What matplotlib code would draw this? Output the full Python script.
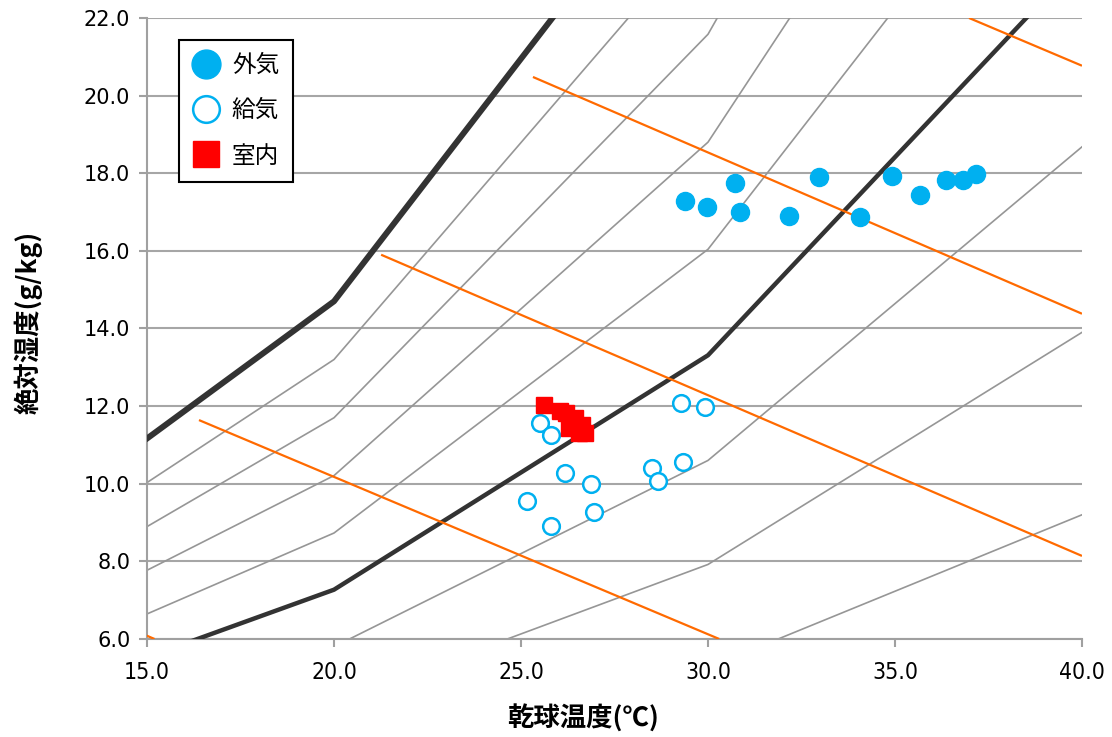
import matplotlib
matplotlib.use('Agg')
import matplotlib.pyplot as plt

plt.rcParams['font.family'] = ['Noto Sans CJK JP', 'DejaVu Sans']

# 相対湿度線 (10, 20, 30, 40 ℃ での絶対湿度 g/kg)
rh_temps = [10, 20, 30, 40]
rh100 = [7.63, 14.70, 27.20, 48.89]
rh90 = [6.86, 13.20, 24.38, 43.66]
rh80 = [6.09, 11.70, 21.58, 38.51]
rh70 = [5.33, 10.21, 18.80, 33.44]
rh60 = [4.56, 8.73, 16.04, 28.44]
rh50 = [3.79, 7.27, 13.31, 23.52]
rh40 = [3.03, 5.80, 10.60, 18.68]
rh30 = [2.27, 4.34, 7.92, 13.90]
rh20 = [1.51, 2.88, 5.26, 9.20]

# エンタルピー線 (始点・終点)
enth_x = [[14.5, 15.2], [16.39, 30.3], [21.26, 40.0], [25.32, 40.0], [36.98, 40.0]]
enth_y = [[6.29, 6.0], [11.64, 6.0], [15.90, 8.14], [20.48, 14.38], [22.0, 20.77]]

# 外気
out_t = [29.39, 29.97, 30.72, 30.86, 32.97, 32.17, 34.06, 34.92, 35.67, 36.36, 36.82, 37.17]
out_x = [17.29, 17.13, 17.75, 17.00, 17.91, 16.91, 16.88, 17.93, 17.44, 17.83, 17.83, 17.98]

# 給気
sup_t = [25.51, 25.80, 26.18, 25.16, 25.80, 26.87, 26.95, 28.50, 28.66, 29.28, 29.33, 29.92]
sup_x = [11.57, 11.26, 10.28, 9.56, 8.91, 9.99, 9.27, 10.41, 10.07, 12.08, 10.56, 11.98]

# 室内
in_t = [25.61, 26.04, 26.20, 26.44, 26.28, 26.55, 26.71, 26.63]
in_x = [12.03, 11.88, 11.82, 11.70, 11.44, 11.31, 11.31, 11.52]

xticks = [15.0, 20.0, 25.0, 30.0, 35.0, 40.0]
yticks = [6.0, 8.0, 10.0, 12.0, 14.0, 16.0, 18.0, 20.0, 22.0]

fig = plt.figure(figsize=(11.12, 7.37), dpi=100)
ax = fig.add_axes([0.1322, 0.133, 0.8408, 0.8426])

for yv in yticks:
    ax.axhline(yv, color='#a6a6a6', lw=1.5, zorder=1)

for line in [rh90, rh80, rh70, rh60, rh40, rh30, rh20]:
    ax.plot(rh_temps, line, color='#969696', lw=1.2, zorder=2)

ax.plot(rh_temps, rh100, color='#333333', lw=4.3, zorder=3)
ax.plot(rh_temps, rh50, color='#333333', lw=3.2, zorder=3)

for ex, ey in zip(enth_x, enth_y):
    ax.plot(ex, ey, color='#ff6a00', lw=1.6, zorder=3, solid_capstyle='butt')

ax.plot(out_t, out_x, 'o', color='#00b0f0', ms=13, mec='#00b0f0', label='外気', zorder=5)
ax.plot(sup_t, sup_x, 'o', color='white', ms=12, mec='#00b0f0', mew=1.8, label='給気', zorder=5)
ax.plot(in_t, in_x, 's', color='#ff0000', ms=11.5, label='室内', zorder=6)

ax.set_xlim(15, 40)
ax.set_ylim(6, 22)
ax.set_xticks(xticks)
ax.set_yticks(yticks)
ax.set_xticklabels(['%.1f' % v for v in xticks], family='DejaVu Sans', stretch='condensed', fontsize=16.5)
ax.set_yticklabels(['%.1f' % v for v in yticks], family='DejaVu Sans', fontsize=15)
ax.tick_params(axis='both', colors='#a0a0a0', width=1.5, length=6, labelcolor='black')
ax.tick_params(axis='x', pad=10)
ax.tick_params(axis='y', pad=6)

for s in ['top', 'right']:
    ax.spines[s].set_visible(False)
for s in ['left', 'bottom']:
    ax.spines[s].set_color('#a0a0a0')
    ax.spines[s].set_linewidth(1.5)

ax.set_xlabel('乾球温度(℃)', fontsize=19, fontweight='bold')
ax.set_ylabel('絶対湿度(g/kg)', fontsize=19, fontweight='bold')
ax.xaxis.set_label_coords((583 - 147) / 935, (639 - 705) / 621)
ax.yaxis.set_label_coords((43 - 147) / 935, (639 - 322) / 621)

leg = ax.legend(loc='upper left', bbox_to_anchor=(0.034, 0.965), borderaxespad=0,
                fancybox=False, edgecolor='black', fontsize=17, markerscale=1.6,
                handlelength=1.1, handletextpad=0.55, labelspacing=0.95, framealpha=1,
                borderpad=0.6)
leg.get_frame().set_linewidth(1.5)

fig.savefig('out.png', dpi=100)
